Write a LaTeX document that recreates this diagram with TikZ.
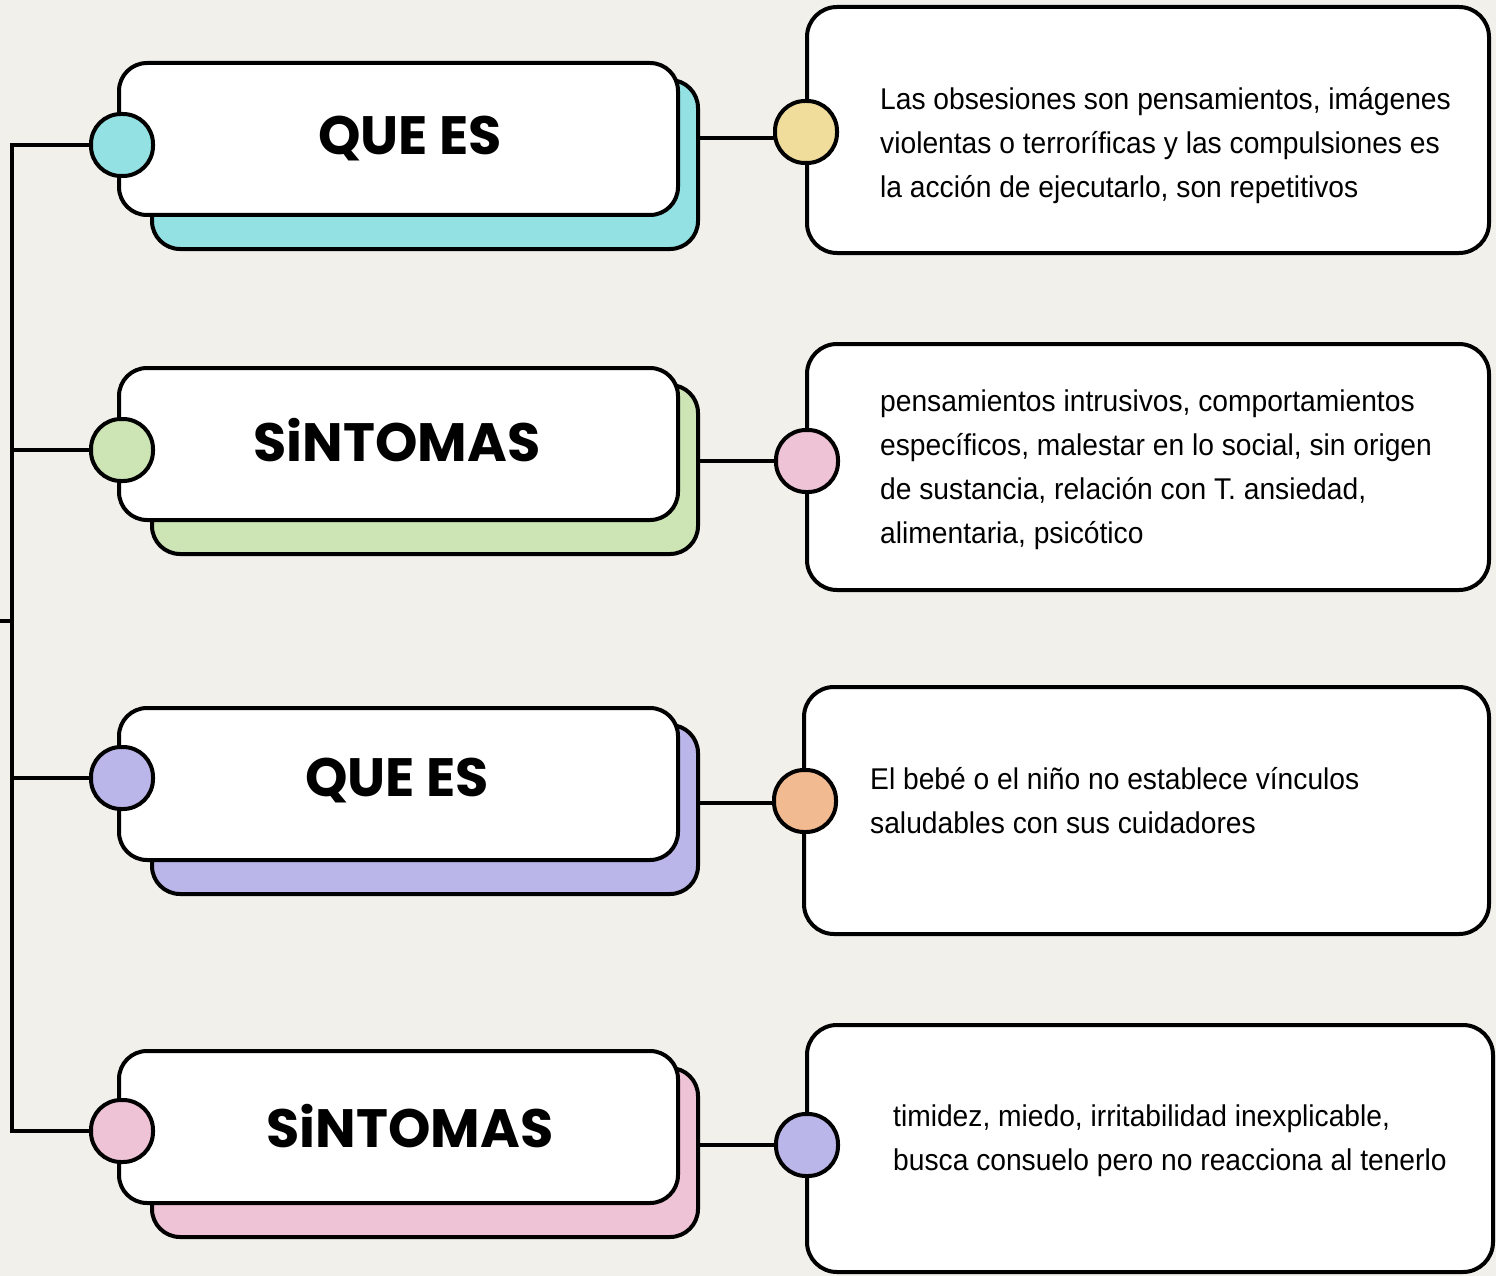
\documentclass[tikz,border=0pt]{standalone}
\usepackage{fontspec}
\newfontfamily\descfont[FakeStretch=0.94]{Liberation Sans}
\newfontfamily\titlefont{Poppins}
\definecolor{bg}{RGB}{242,240,235}
\definecolor{ccyan}{RGB}{147,225,227}
\definecolor{cgreen}{RGB}{205,228,181}
\definecolor{clav}{RGB}{187,182,233}
\definecolor{cpink}{RGB}{238,195,213}
\definecolor{cyel}{RGB}{240,221,156}
\definecolor{corange}{RGB}{242,186,144}
\tikzset{
 wire/.style={line width=3.5pt, draw=black},
 shadowbox/.style={draw, line width=4pt, rounded corners=28pt, minimum width=546pt, minimum height=169pt, inner sep=0pt},
 titlebox/.style={draw, fill=white, line width=4pt, rounded corners=28pt, minimum width=559pt, minimum height=152pt, inner sep=0pt},
 dot/.style={draw, line width=4pt, rounded corners=30pt, minimum size=62pt, inner sep=0pt},
 descbox/.style={draw, fill=white, line width=4pt, rounded corners=30pt, inner sep=0pt},
 desctext/.style={font=\descfont\fontsize{30}{44}\selectfont, align=left, anchor=base west, inner sep=0pt},
 titletext/.style={font=\titlefont\bfseries\fontsize{54}{60}\selectfont, inner sep=0pt},
}
\begin{document}
\begin{tikzpicture}[x=1pt,y=-1pt]
\fill[bg] (0,0) rectangle (1496,1276);
\useasboundingbox (0,0) rectangle (1496,1276);

% title boxes
\node[shadowbox, fill=ccyan] (sh1) at (425,164.5) {};
\node[titlebox] (tb1) at (398.5,139) {};
\node[shadowbox, fill=cgreen] (sh2) at (425,469.5) {};
\node[titlebox] (tb2) at (398.5,444) {};
\node[shadowbox, fill=clav] (sh3) at (425,809.5) {};
\node[titlebox] (tb3) at (398.5,784) {};
\node[shadowbox, fill=cpink] (sh4) at (425,1152.5) {};
\node[titlebox] (tb4) at (398.5,1127) {};

\node[titletext] (tt1) at (410,139) {QUE ES};
\node[titletext] (tt2) at (397,440) {SiNTOMAS};
\node[titletext] (tt3) at (397,781) {QUE ES};
\node[titletext] (tt4) at (410,1126) {SiNTOMAS};

% left dots
\node[dot, fill=ccyan] (lc1) at (122,145) {};
\node[dot, fill=cgreen] (lc2) at (122,450) {};
\node[dot, fill=clav] (lc3) at (122,778) {};
\node[dot, fill=cpink] (lc4) at (122,1131) {};

% trunk
\coordinate (tbot) at (12,1131);
\coordinate (stub) at (0,621);
\draw[wire] (lc1.west) -| (tbot) -- (lc4.west);
\draw[wire] (lc2.west) -- (lc2.west -| tbot);
\draw[wire] (lc3.west) -- (lc3.west -| tbot);
\draw[wire] (stub) -- (stub -| tbot);

% description boxes
\node[descbox, minimum width=682pt, minimum height=246pt] (d1) at (1148,130) {};
\node[descbox, minimum width=682pt, minimum height=246pt] (d2) at (1148,467) {};
\node[descbox, minimum width=685pt, minimum height=247pt] (d3) at (1146.5,810.5) {};
\node[descbox, minimum width=686pt, minimum height=247pt] (d4) at (1150,1148.5) {};

% right dots
\node[dot, fill=cyel] (rc1) at (806,132) {};
\node[dot, fill=cpink] (rc2) at (807,461) {};
\node[dot, fill=corange] (rc3) at (805,801) {};
\node[dot, fill=clav] (rc4) at (807,1145) {};

% right connectors
\draw[wire] (sh1.east |- 0,138) -- ([xshift=1pt]rc1.west |- 0,138);
\draw[wire] (sh2.east |- rc2) -- (rc2.west);
\draw[wire] (sh3.east |- 0,803) -- ([xshift=1pt]rc3.west |- 0,803);
\draw[wire] (sh4.east |- rc4) -- (rc4.west);

% description texts (anchor = baseline of last line)
\node[desctext] (x1) at (880,197) {Las obsesiones son pensamientos, imágenes\\violentas o terroríficas y las compulsiones es\\la acción de ejecutarlo, son repetitivos};
\node[desctext] (x2) at (880,543) {pensamientos intrusivos, comportamientos\\específicos, malestar en lo social, sin origen\\de sustancia, relación con T. ansiedad,\\alimentaria, psicótico};
\node[desctext] (x3) at (870,833) {El bebé o el niño no establece vínculos\\saludables con sus cuidadores};
\node[desctext] (x4) at (893,1170) {timidez, miedo, irritabilidad inexplicable,\\busca consuelo pero no reacciona al tenerlo};
\end{tikzpicture}
\end{document}
